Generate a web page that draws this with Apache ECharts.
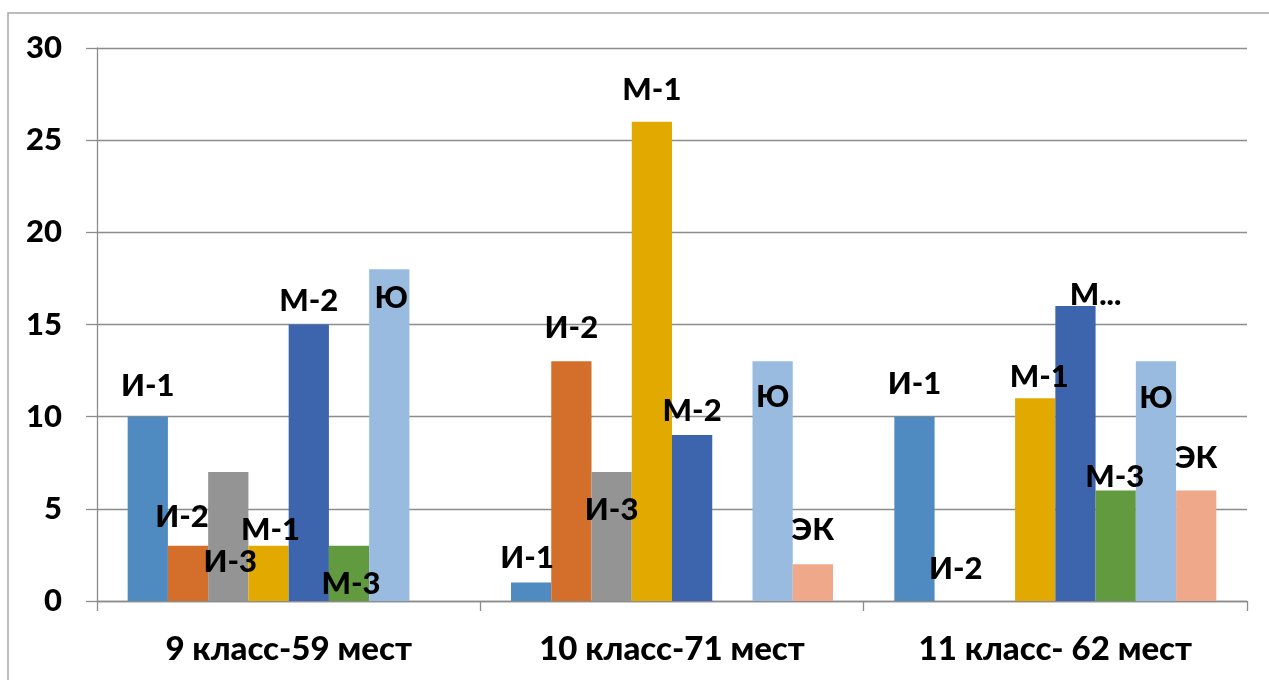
<!DOCTYPE html>
<html>
<head>
<meta charset="utf-8">
<script src="https://cdn.jsdelivr.net/npm/echarts@6/dist/echarts.min.js"></script>
<style>html,body{margin:0;padding:0;background:#fff}#c{width:1269px;height:680px}</style>
</head>
<body>
<div id="c"></div>
<script>
const categories = ['9 класс-59 мест', '10 класс-71 мест', '11 класс- 62 мест'];
const seriesNames = ['И-1', 'И-2', 'И-3', 'М-1', 'М-2', 'М-3', 'Ю', 'ЭК'];
const valuesI1 = [10, 1, 10];
const valuesI2 = [3, 13, 0];
const valuesI3 = [7, 7, null];
const valuesM1 = [3, 26, 11];
const valuesM2 = [15, 9, 16];
const valuesM3 = [3, null, 6];
const valuesU  = [18, 13, 13];
const valuesEK = [null, 2, 6];
const yTicks = { min: 0, max: 30, interval: 5 };

const allValues = [valuesI1, valuesI2, valuesI3, valuesM1, valuesM2, valuesM3, valuesU, valuesEK];
const colors = ['#4F8BC1', '#D36E2B', '#949494', '#E2AA00', '#3C65AE', '#629A40', '#9ABBE0', '#F0A88B'];

// label placement (style): [dx, dy from bar top] per series per category
const labelPlace = [
  [[0, -31], [-4, -25], [0, -33]],
  [[-6, -29], [0, -33], [1, -32]],
  [[2, 90], [0, 38], [0, 0]],
  [[2, -16], [0, -32], [4, -21]],
  [[0, -24], [0, -24], [20, -11]],
  [[2, 38], [0, 0], [-1, -13]],
  [[2, 29], [0, 36], [0, 37]],
  [[0, 0], [0, -34], [0, -32]]
];
const labelText = { '4_2': 'М...' };

const FONT = 'Lato, Roboto, sans-serif';

const series = seriesNames.map((name, si) => ({
  name,
  type: 'bar',
  barGap: '0%',
  barCategoryGap: '16%',
  itemStyle: { color: colors[si] },
  data: allValues[si].map((v, ci) => {
    if (v === null) return '-';
    const p = labelPlace[si][ci];
    return {
      value: v,
      label: {
        show: true,
        position: ['50%', p[1]],
        offset: [p[0], 0],
        align: 'center',
        verticalAlign: 'middle',
        formatter: labelText[si + '_' + ci] || name,
        fontFamily: FONT,
        fontWeight: 900,
        fontSize: 31,
        color: '#000'
      }
    };
  })
}));

const chart = echarts.init(document.getElementById('c'));
chart.setOption({
  animation: false,
  backgroundColor: '#fff',
  graphic: [{
    type: 'rect',
    shape: { x: 8, y: 13, width: 1400, height: 800 },
    style: { fill: 'none', stroke: '#A6A6A6', lineWidth: 1.5 },
    silent: true
  }],
  grid: { left: 97, right: 22, top: 48, bottom: 79 },
  xAxis: {
    type: 'category',
    data: categories,
    axisLine: { lineStyle: { color: '#8C8C8C', width: 1.3 } },
    axisTick: { show: true, length: 10, lineStyle: { color: '#8C8C8C', width: 1.3 } },
    axisLabel: { fontFamily: FONT, fontWeight: 900, fontSize: 33, color: '#000', margin: 32 }
  },
  yAxis: {
    type: 'value',
    min: yTicks.min, max: yTicks.max, interval: yTicks.interval,
    axisLine: { show: true, lineStyle: { color: '#8C8C8C', width: 1.3 } },
    axisTick: { show: true, length: 11, lineStyle: { color: '#8C8C8C', width: 1.3 } },
    splitLine: { lineStyle: { color: '#8C8C8C', width: 1.3 } },
    axisLabel: { fontFamily: FONT, fontWeight: 900, fontSize: 31, color: '#000', margin: 35 }
  },
  series
});
</script>
</body>
</html>
